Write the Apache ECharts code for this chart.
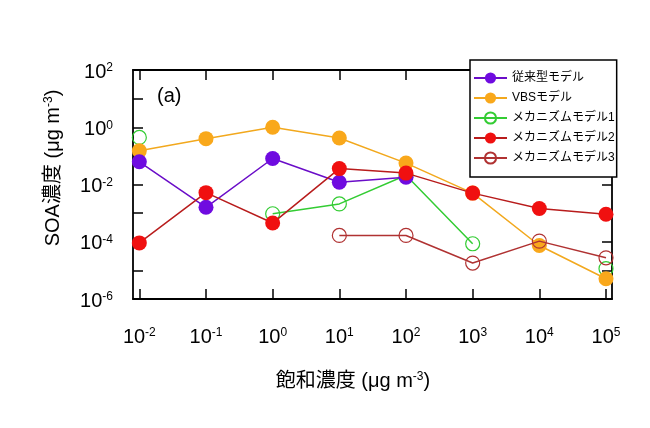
<!DOCTYPE html>
<html>
<head>
<meta charset="utf-8">
<script src="https://cdn.jsdelivr.net/npm/echarts@6/dist/echarts.min.js"></script>
<style>
html,body{margin:0;padding:0;background:#fff;}
#chart{width:650px;height:428px;}
</style>
</head>
<body>
<div id="chart"></div>
<script>
// Saturation concentration categories (µg m^-3)
const satConc = [1e-2, 1e-1, 1e0, 1e1, 1e2, 1e3, 1e4, 1e5];
const xTickExp = [-2, -1, 0, 1, 2, 3, 4, 5];
const yTickExp = [-6, -5, -4, -3, -2, -1, 0, 1, 2];

const seriesNames = ['従来型モデル', 'VBSモデル', 'メカニズムモデル1', 'メカニズムモデル2', 'メカニズムモデル3'];
// SOA concentration (µg m^-3)
const conventional = [6.2e-2, 1.6e-3, 8.1e-2, 1.2e-2, 1.8e-2, null, null, null];
const vbs          = [0.15, 0.40, 1.0, 0.42, 5.6e-2, 5.0e-3, 7.4e-5, 5.1e-6];
const mech1        = [0.44, null, 9.5e-4, 2.1e-3, 2.1e-2, 8.5e-5, null, 1.15e-5];
const mech2        = [9.1e-5, 5.2e-3, 4.5e-4, 3.6e-2, 2.5e-2, 5.0e-3, 1.45e-3, 9.1e-4];
const mech3        = [null, null, null, 1.66e-4, 1.66e-4, 1.8e-5, 1.05e-4, 2.75e-5];

const FONT = 'Arial, "Liberation Sans", "Noto Sans CJK JP", sans-serif';

function toXY(vals) {
  return satConc.map((x, i) => [Math.log10(x), vals[i] == null ? null : Math.log10(vals[i])]);
}

const supRich = {
  b: { fontSize: 20, fontFamily: FONT, color: '#000' },
  s: { fontSize: 12, fontFamily: FONT, color: '#000', verticalAlign: 'top' }
};
function powLabel(v) {
  return '{b|10}{s|' + Math.round(v) + '}';
}

const chart = echarts.init(document.getElementById('chart'), null, { renderer: 'canvas' });

function filledSeries(name, vals, lineColor, markColor, z) {
  return {
    name, type: 'line', data: toXY(vals), z,
    symbol: 'circle', symbolSize: 15, connectNulls: false,
    lineStyle: { color: lineColor, width: 1.5 },
    itemStyle: { color: markColor, borderWidth: 0 },
    emphasis: { disabled: true }
  };
}
function openSeries(name, vals, color, z) {
  return {
    name, type: 'line', data: toXY(vals), z,
    symbol: 'circle', symbolSize: 14, connectNulls: false,
    lineStyle: { color: color, width: 1.5 },
    itemStyle: { color: 'rgba(255,255,255,0)', borderColor: color, borderWidth: 1.2 },
    emphasis: { disabled: true }
  };
}

const axisLine = { show: true, onZero: false, lineStyle: { color: '#000', width: 1.8 } };
const tickStyle = { color: '#000', width: 1.5 };

const option = {
  animation: false,
  backgroundColor: '#fff',
  grid: { left: 133, top: 70, right: 38, bottom: 129, containLabel: false },
  xAxis: [
    {
      type: 'value', min: -2.095, max: 5.09, position: 'bottom',
      axisLine,
      splitLine: { show: false },
      axisTick: { show: true, inside: true, length: 10, lineStyle: tickStyle, customValues: xTickExp },
      axisLabel: { show: true, margin: 28, customValues: xTickExp, formatter: powLabel, rich: supRich }
    },
    {
      type: 'value', min: -2.095, max: 5.09, position: 'top',
      axisLine,
      splitLine: { show: false },
      axisTick: { show: true, inside: true, length: 10, lineStyle: tickStyle, customValues: xTickExp },
      axisLabel: { show: false }
    }
  ],
  yAxis: [
    {
      type: 'value', min: -6, max: 2, interval: 1, position: 'left',
      axisLine,
      splitLine: { show: false },
      axisTick: { show: true, inside: true, length: 10, lineStyle: tickStyle },
      axisLabel: {
        show: true, margin: 20, padding: [4, 0, 0, 0],
        formatter: v => (Math.round(v) % 2 === 0 ? powLabel(v) : ''),
        rich: supRich
      }
    },
    {
      type: 'value', min: -6, max: 2, interval: 1, position: 'right',
      axisLine,
      splitLine: { show: false },
      axisTick: { show: true, inside: true, length: 10, lineStyle: tickStyle },
      axisLabel: { show: false }
    }
  ],
  legend: {
    data: seriesNames,
    orient: 'vertical',
    left: 470, top: 60,
    itemWidth: 33, itemHeight: 14, itemGap: 6,
    padding: [11, 2, 12, 3],
    borderColor: '#000', borderWidth: 1.5,
    backgroundColor: '#fff',
    textStyle: { fontSize: 12, lineHeight: 14, fontFamily: FONT, color: '#000' },
    selectedMode: false
  },
  graphic: [
    {
      type: 'text', left: 157, top: 86,
      style: { text: '(a)', fontSize: 20, fontFamily: FONT, fill: '#000' }
    },
    {
      type: 'text', x: 353, y: 381,
      style: {
        text: '飽和濃度 (μg m{s|-3})', fontSize: 20, fontFamily: FONT, fill: '#000',
        align: 'center', verticalAlign: 'middle',
        rich: { s: { fontSize: 12, fontFamily: FONT, fill: '#000', verticalAlign: 'top' } }
      }
    },
    {
      type: 'text', x: 53, y: 168, rotation: Math.PI / 2,
      style: {
        text: 'SOA濃度 (μg m{s|-3})', fontSize: 20, fontFamily: FONT, fill: '#000',
        align: 'center', verticalAlign: 'middle',
        rich: { s: { fontSize: 12, fontFamily: FONT, fill: '#000', verticalAlign: 'top' } }
      }
    }
  ],
  series: [
    openSeries(seriesNames[2], mech1, '#33CC33', 2),
    filledSeries(seriesNames[1], vbs, '#F2A81D', '#F9A81B', 3),
    filledSeries(seriesNames[0], conventional, '#6A0DC8', '#6F0BE0', 4),
    filledSeries(seriesNames[3], mech2, '#B81C1C', '#F01010', 5),
    openSeries(seriesNames[4], mech3, '#B03232', 6)
  ]
};
chart.setOption(option);
</script>
</body>
</html>
